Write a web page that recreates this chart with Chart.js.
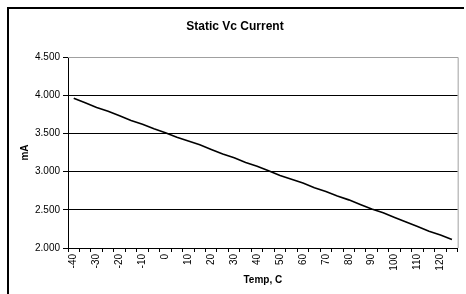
<!DOCTYPE html>
<html>
<head>
<meta charset="utf-8">
<script src="https://cdn.jsdelivr.net/npm/chart.js@4"></script>
<style>
  html, body { margin: 0; padding: 0; background: #fff; }
  #wrap { position: relative; width: 466px; height: 294px; overflow: hidden; }
  #frame { position: absolute; left: 7px; top: 7px; width: 455px; height: 300px;
           border-left: 2px solid #000; border-top: 2px solid #000; }
  canvas { position: absolute; left: 0; top: 0; }
</style>
</head>
<body>
<div id="wrap">
  <div id="frame"></div>
  <canvas id="vcChart" width="466" height="294"></canvas>
</div>
<script>
// Температура, C
const temps = [-40, -35, -30, -25, -20, -15, -10, -5, 0, 5, 10, 15, 20, 25, 30, 35, 40,
               45, 50, 55, 60, 65, 70, 75, 80, 85, 90, 95, 100, 105, 110, 115, 120, 125];
// ток, mA
const currentMA = [3.96, 3.90, 3.84, 3.79, 3.73, 3.67, 3.62, 3.56, 3.51, 3.45, 3.40, 3.35,
                   3.29, 3.23, 3.18, 3.12, 3.07, 3.01, 2.95, 2.90, 2.85, 2.79, 2.74, 2.68,
                   2.63, 2.57, 2.51, 2.46, 2.40, 2.34, 2.28, 2.22, 2.17, 2.11];

const fontFam = "'Liberation Sans', Arial, sans-serif";

// серая рамка области графика (верх и право)
const plotBorder = {
  id: 'plotBorder',
  afterDraw(chart) {
    const { ctx, chartArea: a } = chart;
    ctx.save();
    ctx.strokeStyle = '#a0a0a0';
    ctx.lineWidth = 1;
    ctx.beginPath();
    ctx.moveTo(a.left, a.top + 0.5);
    ctx.lineTo(a.right + 0.5, a.top + 0.5);
    ctx.lineTo(a.right + 0.5, a.bottom);
    ctx.stroke();
    ctx.restore();
  }
};

const ctx = document.getElementById('vcChart').getContext('2d');

const vcChart = new Chart(ctx, {
  type: 'line',
  data: {
    labels: temps,
    datasets: [{
      data: currentMA,
      borderColor: '#000',
      borderWidth: 1.6,
      pointRadius: 0,
      tension: 0,
      fill: false
    }]
  },
  options: {
    responsive: false,
    animation: false,
    layout: { padding: { left: 8, right: 4, top: 0, bottom: 0 } },
    plugins: {
      legend: { display: false },
      tooltip: { enabled: false },
      title: {
        display: true,
        text: 'Static Vc Current',
        color: '#000',
        font: { family: fontFam, size: 12, weight: 'bold' },
        padding: { top: 19, bottom: 23.6 }
      }
    },
    scales: {
      x: {
        offset: true,
        afterFit(scale) { scale.height = 46; },
        grid: { offset: true, drawOnChartArea: false, color: '#000', tickLength: 4 },
        border: { color: '#000', width: 1 },
        ticks: {
          autoSkip: false,
          maxRotation: 90,
          minRotation: 90,
          padding: 2,
          color: '#000',
          font: { family: fontFam, size: 10 },
          callback: (v, i) => (i % 2 === 0 ? temps[i] : '')
        },
        title: {
          display: true,
          text: 'Temp, C',
          color: '#000',
          font: { family: fontFam, size: 10, weight: 'bold' },
          padding: { top: 0, bottom: 8 }
        }
      },
      y: {
        min: 2,
        max: 4.5,
        afterFit(scale) { scale.width = 60; },
        grid: { color: '#000', tickLength: 5 },
        border: { color: '#000', width: 1 },
        ticks: {
          stepSize: 0.5,
          padding: 3,
          color: '#000',
          font: { family: fontFam, size: 10 },
          callback: v => v.toFixed(3)
        },
        title: {
          display: true,
          text: 'mA',
          color: '#000',
          font: { family: fontFam, size: 10, weight: 'bold' },
          padding: { top: 11, bottom: 0 }
        }
      }
    }
  },
  plugins: [plotBorder]
});
</script>
</body>
</html>
